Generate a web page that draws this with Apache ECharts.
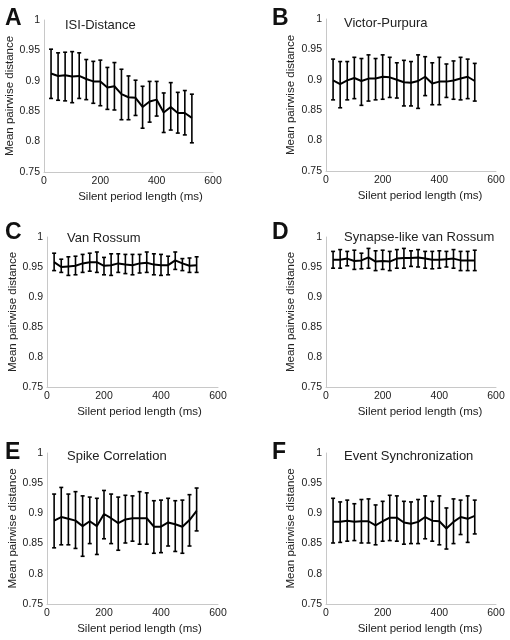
<!DOCTYPE html>
<html>
<head>
<meta charset="utf-8">
<script src="https://cdn.jsdelivr.net/npm/echarts@6/dist/echarts.min.js"></script>
<style>html,body{margin:0;padding:0;background:#fff;}#c{width:510px;height:640px;}</style>
</head>
<body>
<div id="c"></div>
<script>
const silentPeriods = [25,50,75,100,125,150,175,200,225,250,275,300,325,350,375,400,425,450,475,500,525];
const xTicks = [0,200,400,600];
const yTicks = [0.75,0.8,0.85,0.9,0.95,1];

const isiMean  = [0.912,0.908,0.909,0.907,0.908,0.903,0.899,0.899,0.889,0.891,0.878,0.873,0.872,0.857,0.866,0.869,0.848,0.857,0.847,0.847,0.839];
const isiUpper = [0.952,0.946,0.947,0.948,0.946,0.935,0.932,0.934,0.922,0.930,0.919,0.908,0.901,0.891,0.899,0.899,0.880,0.897,0.881,0.884,0.878];
const isiLower = [0.871,0.868,0.867,0.864,0.871,0.869,0.863,0.859,0.853,0.852,0.836,0.836,0.843,0.822,0.832,0.842,0.815,0.819,0.814,0.811,0.798];

const vpMean  = [0.899,0.893,0.899,0.903,0.898,0.902,0.902,0.905,0.904,0.900,0.896,0.895,0.898,0.905,0.894,0.897,0.897,0.899,0.902,0.905,0.898];
const vpUpper = [0.934,0.930,0.930,0.937,0.935,0.941,0.935,0.941,0.937,0.928,0.932,0.930,0.941,0.938,0.928,0.937,0.926,0.931,0.937,0.934,0.927];
const vpLower = [0.867,0.854,0.867,0.869,0.858,0.865,0.867,0.868,0.871,0.870,0.857,0.857,0.853,0.874,0.859,0.859,0.871,0.868,0.867,0.869,0.865];

const vrMean  = [0.958,0.950,0.951,0.952,0.956,0.958,0.958,0.952,0.953,0.956,0.954,0.953,0.956,0.957,0.954,0.953,0.953,0.961,0.956,0.952,0.953];
const vrUpper = [0.973,0.963,0.967,0.968,0.971,0.973,0.975,0.966,0.972,0.972,0.971,0.971,0.971,0.975,0.972,0.971,0.968,0.975,0.964,0.965,0.967];
const vrLower = [0.944,0.941,0.936,0.937,0.941,0.943,0.941,0.937,0.936,0.941,0.939,0.937,0.940,0.941,0.937,0.936,0.937,0.946,0.944,0.941,0.941];

const svrMean  = [0.962,0.962,0.964,0.960,0.961,0.966,0.959,0.960,0.959,0.964,0.965,0.965,0.966,0.964,0.962,0.962,0.963,0.964,0.961,0.961,0.961];
const svrUpper = [0.976,0.979,0.976,0.978,0.973,0.981,0.977,0.978,0.976,0.979,0.981,0.977,0.979,0.976,0.976,0.977,0.976,0.979,0.976,0.976,0.978];
const svrLower = [0.948,0.948,0.952,0.946,0.947,0.948,0.944,0.946,0.944,0.948,0.948,0.951,0.950,0.948,0.947,0.948,0.950,0.948,0.944,0.944,0.944];

const scMean  = [0.888,0.894,0.891,0.888,0.879,0.887,0.879,0.899,0.892,0.884,0.890,0.892,0.892,0.892,0.878,0.878,0.885,0.882,0.878,0.889,0.904];
const scUpper = [0.932,0.943,0.932,0.936,0.929,0.927,0.925,0.938,0.932,0.927,0.930,0.929,0.936,0.934,0.921,0.922,0.925,0.921,0.922,0.931,0.942];
const scLower = [0.843,0.848,0.848,0.842,0.829,0.850,0.832,0.858,0.850,0.839,0.851,0.854,0.849,0.849,0.834,0.835,0.846,0.837,0.834,0.846,0.871];

const esMean  = [0.886,0.886,0.888,0.886,0.887,0.887,0.880,0.887,0.893,0.893,0.885,0.883,0.886,0.894,0.888,0.887,0.875,0.886,0.894,0.891,0.896];
const esUpper = [0.925,0.919,0.922,0.916,0.923,0.924,0.914,0.920,0.930,0.929,0.920,0.919,0.923,0.929,0.920,0.929,0.909,0.924,0.922,0.929,0.922];
const esLower = [0.851,0.852,0.854,0.855,0.851,0.851,0.848,0.854,0.855,0.854,0.849,0.850,0.850,0.858,0.854,0.848,0.841,0.850,0.865,0.852,0.866];

const panelLetters = ['A','B','C','D','E','F'];
const panelTitles = ['ISI-Distance','Victor-Purpura','Van Rossum','Synapse-like van Rossum','Spike Correlation','Event Synchronization'];
const xAxisName = 'Silent period length (ms)';
const yAxisName = 'Mean pairwise distance';

const panels = [
  {mean: isiMean, upper: isiUpper, lower: isiLower},
  {mean: vpMean, upper: vpUpper, lower: vpLower},
  {mean: vrMean, upper: vrUpper, lower: vrLower},
  {mean: svrMean, upper: svrUpper, lower: svrLower},
  {mean: scMean, upper: scUpper, lower: scLower},
  {mean: esMean, upper: esUpper, lower: esLower}
];

// layout
const grids = [
  {left: 44, top: 20, width: 169, height: 152},
  {left: 326, top: 19, width: 170, height: 152},
  {left: 47, top: 237, width: 171, height: 150},
  {left: 326, top: 237, width: 170, height: 150},
  {left: 47, top: 453, width: 171, height: 151},
  {left: 326, top: 453, width: 170, height: 151}
];
const letterPos = [[5,7],[272,7],[5,221],[272,221],[5,441],[272,441]];
const titlePos = [[65,19],[344,17],[67,232],[344,231],[67,450],[344,450]];
const xNameShift = [24,18,14,18,14,18];
const yNameGap = [22,29,26,29,26,29];

const FONT = '"Liberation Sans", Arial, Helvetica, sans-serif';
const axisColor = '#c8c8c8';
const textColor = '#222';

const option = {
  backgroundColor: '#fff',
  animation: false,
  title: [],
  grid: [],
  xAxis: [],
  yAxis: [],
  series: []
};

panels.forEach((p, i) => {
  option.grid.push(Object.assign({containLabel: false}, grids[i]));
  option.title.push({
    text: panelLetters[i], left: letterPos[i][0], top: letterPos[i][1],
    textStyle: {fontFamily: FONT, fontWeight: 'bold', fontSize: 23, color: '#111'}, padding: 0
  });
  option.title.push({
    text: panelTitles[i], left: titlePos[i][0], top: titlePos[i][1],
    textStyle: {fontFamily: FONT, fontWeight: 'normal', fontSize: 13, color: textColor}, padding: 0
  });
  option.xAxis.push({
    gridIndex: i, type: 'value', min: xTicks[0], max: xTicks[xTicks.length-1], interval: xTicks[1]-xTicks[0],
    name: xAxisName, nameLocation: 'middle', nameGap: 19,
    nameTextStyle: {fontFamily: FONT, fontSize: 11.5, color: textColor, padding: [0,0,0,xNameShift[i]]},
    axisLine: {show: true, lineStyle: {color: axisColor, width: 1}},
    axisTick: {show: false},
    splitLine: {show: false},
    axisLabel: {fontFamily: FONT, fontSize: 10.5, color: textColor, margin: 4}
  });
  option.yAxis.push({
    gridIndex: i, type: 'value', min: yTicks[0], max: yTicks[yTicks.length-1], interval: 0.05,
    name: yAxisName, nameLocation: 'middle', nameGap: yNameGap[i],
    nameTextStyle: {fontFamily: FONT, fontSize: 11.5, color: textColor},
    axisLine: {show: true, lineStyle: {color: axisColor, width: 1}},
    axisTick: {show: false},
    splitLine: {show: false},
    axisLabel: {fontFamily: FONT, fontSize: 10.5, color: textColor, margin: 4}
  });
  const errData = silentPeriods.map((x, k) => [x, p.upper[k], p.lower[k]]);
  option.series.push({
    type: 'custom', xAxisIndex: i, yAxisIndex: i, data: errData, z: 3,
    renderItem: function (params, api) {
      const x = api.value(0);
      const top = api.coord([x, api.value(1)]);
      const bot = api.coord([x, api.value(2)]);
      const hw = 2;
      const st = {stroke: '#000', lineWidth: 1.6};
      return {type: 'group', children: [
        {type: 'line', shape: {x1: top[0], y1: top[1], x2: bot[0], y2: bot[1]}, style: st},
        {type: 'line', shape: {x1: top[0]-hw, y1: top[1], x2: top[0]+hw, y2: top[1]}, style: st},
        {type: 'line', shape: {x1: bot[0]-hw, y1: bot[1], x2: bot[0]+hw, y2: bot[1]}, style: st}
      ]};
    }
  });
  option.series.push({
    type: 'line', xAxisIndex: i, yAxisIndex: i, z: 4,
    data: silentPeriods.map((x, k) => [x, p.mean[k]]),
    symbol: 'none', lineStyle: {color: '#000', width: 2}
  });
});

const chart = echarts.init(document.getElementById('c'), null, {renderer: 'canvas'});
chart.setOption(option);
</script>
</body>
</html>
